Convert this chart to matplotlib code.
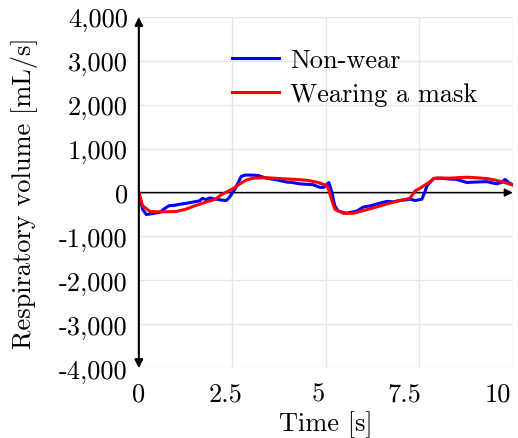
import matplotlib.pyplot as plt
from matplotlib.transforms import ScaledTranslation

plt.rcParams['font.family'] = ['cmr10', 'DejaVu Serif']
plt.rcParams['axes.unicode_minus'] = False

# Non-wear (blue)
t_nonwear = [0, 0.1, 0.2, 0.35, 0.56, 0.68, 0.8, 0.95, 1.1, 1.3, 1.54, 1.62, 1.7, 1.8, 1.9,
             2.0, 2.08, 2.2, 2.34, 2.43, 2.57, 2.74, 2.85, 2.97, 3.18, 3.41, 3.7, 3.95, 4.1,
             4.3, 4.66, 4.84, 4.95, 5.08, 5.15, 5.24, 5.33, 5.55, 5.83, 6.0, 6.2, 6.36,
             6.63, 6.8, 6.98, 7.1, 7.25, 7.39, 7.57, 7.66, 7.7, 7.88, 8.06, 8.3, 8.5, 8.77,
             9.0, 9.3, 9.56, 9.7, 9.79, 9.9, 10.0]
v_nonwear = [0, -380, -500, -480, -450, -370, -300, -290, -265, -240, -200, -190, -130, -160,
             -120, -140, -150, -170, -180, -100, 80, 370, 400, 400, 390, 330, 290, 240, 230,
             200, 180, 120, 120, 230, 40, -300, -420, -470, -420, -330, -300, -260,
             -200, -210, -180, -170, -150, -180, -150, 40, 150, 320, 330, 310, 300, 230,
             240, 250, 200, 230, 300, 220, 180]

# Wearing a mask (red)
t_mask = [0, 0.1, 0.3, 0.6, 1.0, 1.25, 1.5, 1.85, 2.05, 2.2, 2.5, 2.7, 2.88, 3.06, 3.4,
          3.77, 4.2, 4.5, 4.75, 5.0, 5.06, 5.15, 5.24, 5.47, 5.74, 6.09, 6.3, 6.54, 6.98,
          7.25, 7.39, 7.52, 7.7, 7.92, 8.32, 8.77, 9.0, 9.3, 9.5, 9.74, 10.0]
v_mask = [0, -300, -430, -440, -430, -380, -300, -200, -150, -50, 80, 200, 290, 330, 340,
          320, 300, 280, 240, 170, 120, -150, -380, -470, -470, -390, -340, -280, -180,
          -130, 40, 100, 200, 330, 330, 350, 340, 320, 290, 240, 170]

xticks = [0, 2.5, 5, 7.5, 10]
xtick_labels = ['0', '2.5', '5', '7.5', '10']
yticks = [-4000, -3000, -2000, -1000, 0, 1000, 2000, 3000, 4000]
ytick_labels = ['-4,000', '-3,000', '-2,000', '-1,000', '0', '1,000', '2,000', '3,000', '4,000']

fs = 19

fig = plt.figure(figsize=(5.18, 4.39), dpi=100)
ax = fig.add_axes([0.268, 0.159, 0.722, 0.8])

ax.plot(t_nonwear, v_nonwear, color='#0000ff', lw=2.2, label='Non-wear', zorder=3)
ax.plot(t_mask, v_mask, color='#ff0000', lw=2.2, label='Wearing a mask', zorder=4)

ax.set_xlim(0, 10)
ax.set_ylim(-4000, 4000)
ax.set_xticks(xticks)
ax.set_xticklabels(xtick_labels)
ax.set_yticks(yticks)
ax.set_yticklabels(ytick_labels)
ax.tick_params(length=0, labelsize=fs)
ax.tick_params(axis='x', pad=10)
ax.tick_params(axis='y', pad=8)
ax.grid(True, color='#e6e6e6', lw=1)
for s in ax.spines.values():
    s.set_visible(False)

# the x tick labels sit a little left of their grid lines in the original
shifts_px = [0, -7, -8, -15, -15]
for lab, dx in zip(ax.get_xticklabels(), shifts_px):
    lab.set_transform(lab.get_transform() + ScaledTranslation(dx / 100, 0, fig.dpi_scale_trans))

# axis arrows
ax.annotate('', xy=(0, 4000), xytext=(0, -4000),
            arrowprops=dict(arrowstyle='<|-|>', color='black', lw=1.5,
                            mutation_scale=12, shrinkA=0, shrinkB=0), zorder=5)
ax.annotate('', xy=(10, 0), xytext=(0, 0),
            arrowprops=dict(arrowstyle='-|>', color='black', lw=1.1,
                            mutation_scale=12, shrinkA=0, shrinkB=0), zorder=2)

ax.set_xlabel('Time [s]', fontsize=fs, labelpad=3)
ax.set_ylabel('Respiratory volume [mL/s]', fontsize=fs, labelpad=15)

ax.legend(loc='upper left', bbox_to_anchor=(0.249, 0.91), frameon=False, fontsize=fs,
          borderpad=0, borderaxespad=0,
          handlelength=1.8, handletextpad=0.4, labelspacing=0.38)

fig.savefig('out.png', dpi=100)
